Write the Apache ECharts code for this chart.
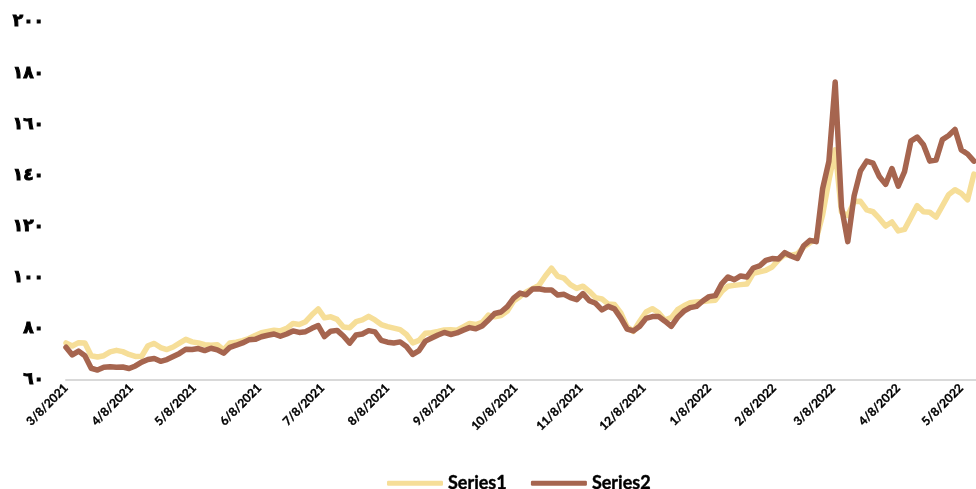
<!DOCTYPE html>
<html>
<head>
<meta charset="utf-8">
<script src="https://cdn.jsdelivr.net/npm/echarts@6/dist/echarts.min.js"></script>
<style>
  html, body { margin: 0; padding: 0; background: #fff; }
  #chart { width: 976px; height: 489px; }
</style>
</head>
<body>
<div id="chart"></div>
<script>
// Sampling grid: one observation every 3 calendar days from 8 March 2021
const startDate = [2021, 2, 8];
const stepDays = 3;

// Month ticks shown on the horizontal axis (8th of each month)
const tickDates = [
  [2021, 3, 8], [2021, 4, 8], [2021, 5, 8], [2021, 6, 8], [2021, 7, 8],
  [2021, 8, 8], [2021, 9, 8], [2021, 10, 8], [2021, 11, 8], [2021, 12, 8],
  [2022, 1, 8], [2022, 2, 8], [2022, 3, 8], [2022, 4, 8], [2022, 5, 8]
];
const axisEnd = [2022, 5, 15];

const seriesNames = ['Series1', 'Series2'];

const series1 = [
  74.5,73.3,74.6,74.5,69.5,69,69.5,71,71.6,71.1,
  70,69.2,69.3,73.4,74.3,72.7,71.9,72.9,74.4,75.9,
  74.9,74.5,73.8,73.6,73.8,71.8,74.5,74.8,75.4,76.2,
  77.4,78.5,79,79.5,79.2,80.2,82.1,81.7,82.8,85.5,
  87.8,84.3,84.7,83.7,80.7,80.4,82.8,83.5,84.9,83.5,
  81.7,80.9,80.3,79.7,77.8,74.5,75.5,78.3,78.5,79,
  79.6,79.7,79.5,80.8,82.1,81.7,82.5,85.4,84.7,85.2,
  87,90.9,92.6,94.4,95.7,97,100.6,103.7,100.5,99.8,
  97.3,95.8,96.7,94.7,92.2,91.7,89.7,89.5,86.2,80.8,
  79,83,86.6,87.9,86.3,83.4,84.4,87.5,89,90.2,
  90.5,90.7,91,91.2,94.6,96.7,97,97.3,97.5,101.7,
  102.3,102.9,104.2,107,109,108.8,109.3,112,113.7,115.2,
  124.5,138,150,125.6,124.3,129.8,129.9,126.5,125.8,123.2,
  120.2,121.8,118.3,118.9,123.5,128.2,125.8,125.6,123.7,128.1,
  132.5,134.4,133,130.5,140.5
];

const series2 = [
  72.8,69.8,71.3,69.5,64.6,63.9,65,65.2,65,65.1,
  64.5,65.5,67,68,68.4,67.3,68,69.2,70.4,72,
  71.9,72.3,71.5,72.4,71.8,70.5,72.8,73.6,74.5,75.7,
  75.9,76.9,77.5,78,77.1,78,79.2,78.6,78.9,80.2,
  81.3,77,79.1,79.4,77.2,74.4,77.6,78,79.3,78.8,
  75.5,74.8,74.5,74.9,73.1,70,71.5,75.2,76.4,77.6,
  78.6,77.8,78.4,79.5,80.5,80,81.1,83.5,86,86.6,
  88.7,92,94,93.3,95.6,95.7,95.2,95.2,93.2,93.5,
  92.2,91.4,93.8,91,90,87.4,88.8,87.8,84.2,79.9,
  79.2,81,84.1,84.8,84.8,83,81,84.5,86.9,88.3,
  88.8,90.9,92.6,93,97.6,100.3,99.2,100.7,100.3,103.8,
  104.6,106.8,107.5,107.3,109.8,108.5,107.5,112.5,114.6,114.1,
  134.7,145.5,176.5,127.7,114.1,132,141.7,145.6,144.8,139.6,
  136.5,142.7,135.8,141.5,153.4,155,152,145.6,146,154,
  155.6,158,150,148.4,145.6
];

const colors = ['#F6DE98', '#A6654F'];

function ts(y, m, d) { return new Date(y, m - 1, d).getTime(); }
function sampleTime(i) {
  return new Date(startDate[0], startDate[1], startDate[2] + i * stepDays).getTime();
}
function pairs(values) {
  return values.map((v, i) => [sampleTime(i), v]);
}
const arabicDigits = '٠١٢٣٤٥٦٧٨٩';
function toArabic(v) {
  return String(v).replace(/\d/g, d => arabicDigits[d]);
}

const chart = echarts.init(document.getElementById('chart'));
chart.setOption({
  animation: false,
  backgroundColor: '#fff',
  grid: { left: 66, right: 0, top: 22, bottom: 109 },
  xAxis: {
    // timestamps on a linear scale, labelled at the 8th of each month
    type: 'value',
    min: ts(2021, 3, 8),
    max: ts(axisEnd[0], axisEnd[1], axisEnd[2]),
    axisLine: { show: true, lineStyle: { color: '#d9d9d9', width: 2 } },
    axisTick: { show: false },
    splitLine: { show: false },
    axisLabel: {
      customValues: tickDates.map(t => ts(t[0], t[1], t[2])),
      rotate: 45,
      margin: 6,
      color: '#000',
      fontFamily: 'Lato',
      fontWeight: 'bold',
      fontSize: 12,
      textBorderColor: '#000',
      textBorderWidth: 0.3,
      hideOverlap: false,
      formatter: function (val) {
        const d = new Date(val);
        return (d.getMonth() + 1) + '/' + d.getDate() + '/' + d.getFullYear();
      }
    }
  },
  yAxis: {
    type: 'value',
    min: 60,
    max: 200,
    interval: 20,
    axisLine: { show: false },
    axisTick: { show: false },
    splitLine: { show: false },
    axisLabel: {
      margin: 22,
      color: '#000',
      fontFamily: 'DejaVu Sans',
      fontWeight: 'bold',
      fontSize: 17,
      textBorderColor: '#000',
      textBorderWidth: 1,
      formatter: v => toArabic(v)
    }
  },
  legend: {
    left: 382,
    top: 469,
    icon: 'roundRect',
    itemWidth: 56,
    itemHeight: 5,
    itemGap: 24,
    textStyle: {
      color: '#000', fontFamily: 'Lato', fontWeight: 'bold', fontSize: 18,
      textBorderColor: '#000', textBorderWidth: 0.4
    },
    data: seriesNames
  },
  series: [
    {
      name: seriesNames[0], type: 'line', data: pairs(series1),
      showSymbol: false, symbol: 'none',
      lineStyle: { color: colors[0], width: 5.5, join: 'round', cap: 'round' },
      itemStyle: { color: colors[0] }
    },
    {
      name: seriesNames[1], type: 'line', data: pairs(series2),
      showSymbol: false, symbol: 'none',
      lineStyle: { color: colors[1], width: 5.5, join: 'round', cap: 'round' },
      itemStyle: { color: colors[1] }
    }
  ]
});
</script>
</body>
</html>
